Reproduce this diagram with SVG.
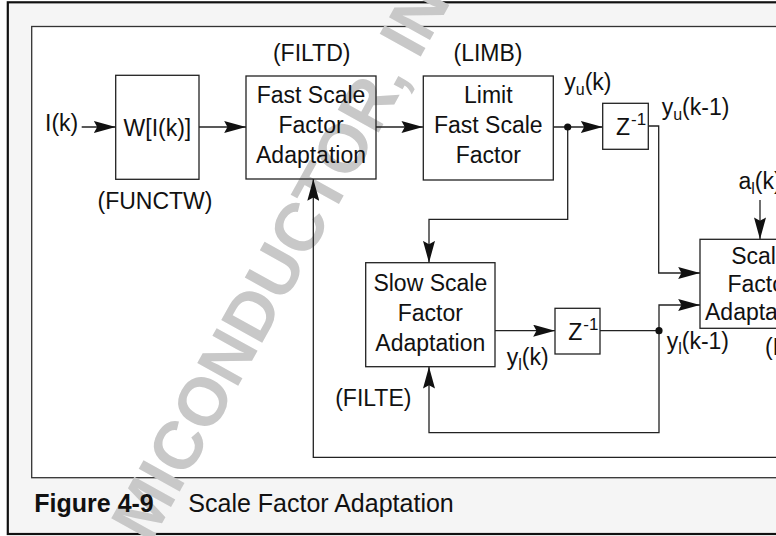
<svg xmlns="http://www.w3.org/2000/svg" width="776" height="536" viewBox="0 0 776 536">
<defs>
<style>
text{font-family:"Liberation Sans",Arial,Helvetica,sans-serif;font-size:23px;fill:#111}
.c{text-anchor:middle}
.box{fill:none;stroke:#222;stroke-width:1.3}
.ln{fill:none;stroke:#222;stroke-width:1.3}
.ar{marker-end:url(#ah)}
.sub{font-size:16px}
.sup{font-size:17px}
.wm{font-family:"Liberation Sans",Arial,sans-serif;font-size:68px;font-weight:bold;fill:#c8c8c8}
</style>
<marker id="ah" markerUnits="userSpaceOnUse" markerWidth="22" markerHeight="12" viewBox="0 0 20 11" refX="20" refY="5.5" orient="auto">
<path d="M0,0 L20,5.5 L0,11 L3,5.5 Z" fill="#111"/>
</marker>
</defs>

<g id="frame">
<rect x="7.8" y="2.3" width="800" height="531.7" fill="#f5f5f5" stroke="#111" stroke-width="2.2"/>
<rect x="31.7" y="26.5" width="800" height="451.2" fill="#fff" stroke="#333" stroke-width="1.3"/>
</g>

<text class="wm" x="150" y="545" transform="rotate(-61 150 545)">MICONDUCTOR, IN</text>

<g id="caption">
<text x="34.3" y="511.7" style="font-size:25px;font-weight:bold">Figure 4-9</text>
<text x="188.3" y="511.7" style="font-size:25px">Scale Factor Adaptation</text>
</g>

<g id="connectors">
<path class="ln ar" d="M81.7,127 H115.7"/>
<path class="ln ar" d="M199,127 H246"/>
<path class="ln ar" d="M376,127 H423.3"/>
<path class="ln ar" d="M553.3,127 H602.7"/>
<path class="ln ar" d="M567.7,127 V219.3 H429 V262.7"/>
<path class="ln ar" d="M648.3,126 H658.7 V273 H700"/>
<path class="ln ar" d="M495,330.7 H555"/>
<path class="ln" d="M600,330.7 H659"/>
<path class="ln ar" d="M659,330.7 V305 H700"/>
<path class="ln ar" d="M659,330.7 V432.7 H429 V366.7"/>
<path class="ln ar" d="M790,457.3 H313.3 V179"/>
<path class="ln ar" d="M760,200 V239.3"/>
<circle cx="567.7" cy="127" r="3.6" fill="#111"/>
<circle cx="659" cy="330.7" r="3.6" fill="#111"/>
</g>

<g id="input">
<text x="45" y="131">I(k)</text>
</g>

<g id="functw">
<rect class="box" x="115.7" y="75.3" width="83.3" height="104"/>
<text class="c" x="157.4" y="136">W[I(k)]</text>
<text class="c" x="155" y="209">(FUNCTW)</text>
</g>

<g id="filtd">
<rect class="box" x="246" y="76" width="130" height="103"/>
<text class="c" x="311" y="103">Fast Scale</text>
<text class="c" x="311" y="133">Factor</text>
<text class="c" x="311" y="163">Adaptation</text>
<text class="c" x="311.7" y="61">(FILTD)</text>
</g>

<g id="limb">
<rect class="box" x="423.3" y="76" width="130" height="104"/>
<text class="c" x="488.3" y="103">Limit</text>
<text class="c" x="488.3" y="133">Fast Scale</text>
<text class="c" x="488.3" y="163">Factor</text>
<text class="c" x="488" y="61">(LIMB)</text>
</g>

<g id="delay1">
<rect class="box" x="602.7" y="103.3" width="45.6" height="46"/>
<text x="616" y="134.5">Z<tspan class="sup" dx="1" dy="-10">-1</tspan></text>
</g>

<g id="filte">
<rect class="box" x="365.7" y="262.7" width="129.3" height="104"/>
<text class="c" x="430.3" y="291">Slow Scale</text>
<text class="c" x="430.3" y="321">Factor</text>
<text class="c" x="430.3" y="351">Adaptation</text>
<text class="c" x="373.3" y="406">(FILTE)</text>
</g>

<g id="delay2">
<rect class="box" x="555" y="308.3" width="45" height="45.7"/>
<text x="568.3" y="340">Z<tspan class="sup" dx="1" dy="-10">-1</tspan></text>
</g>

<g id="mix">
<rect class="box" x="700" y="239.3" width="120" height="89"/>
<text class="c" x="760" y="263.5">Scale</text>
<text class="c" x="760" y="291.5">Factor</text>
<text class="c" x="760" y="319.5">Adaptation</text>
<text x="765" y="355">(MIX)</text>
<text class="c" x="760" y="189">a<tspan class="sub" dy="5">l</tspan><tspan dy="-5">(k)</tspan></text>
</g>

<g id="labels">
<text x="564.3" y="90">y<tspan class="sub" dy="5">u</tspan><tspan dy="-5">(k)</tspan></text>
<text x="661.7" y="115">y<tspan class="sub" dy="5">u</tspan><tspan dy="-5">(k-1)</tspan></text>
<text x="506.7" y="365">y<tspan class="sub" dy="5">l</tspan><tspan dy="-5">(k)</tspan></text>
<text x="666.7" y="349">y<tspan class="sub" dy="5">l</tspan><tspan dy="-5">(k-1)</tspan></text>
</g>
</svg>
